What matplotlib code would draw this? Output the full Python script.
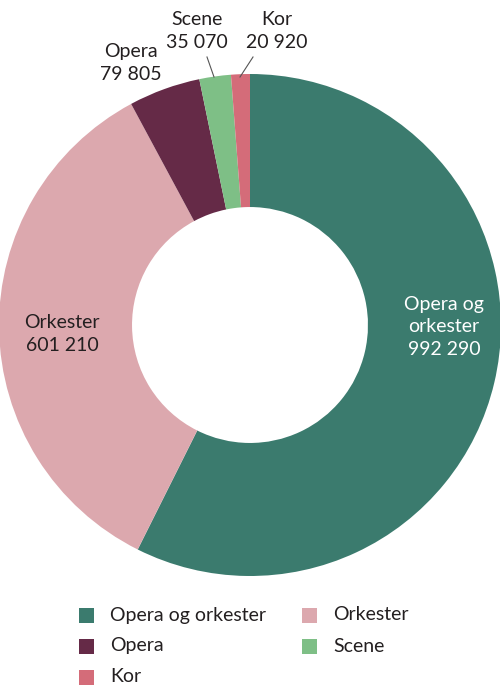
import matplotlib.pyplot as plt
from matplotlib.patches import Rectangle

plt.rcParams['font.family'] = ['Lato', 'DejaVu Sans']

labels = ['Opera og orkester', 'Orkester', 'Opera', 'Scene', 'Kor']
values = [992290, 601210, 79805, 35070, 20920]
value_text = ['992 290', '601 210', '79 805', '35 070', '20 920']
colors = ['#3b7b6e', '#dca8ae', '#652a47', '#7ebf86', '#d46c79']

H = 696


def Y(y):
    # pixel row from top -> data y
    return H - y


fig = plt.figure(figsize=(5, 6.96), dpi=100)
ax = fig.add_axes([0, 0, 1, 1])

cx, cy, r = 250, 325, 251
wedges, _ = ax.pie(values, colors=colors, startangle=90, counterclock=False,
                   center=(cx, Y(cy)), radius=r, frame=True,
                   wedgeprops=dict(width=r * 0.53, linewidth=0))
ax.set_xlim(0, 500)
ax.set_ylim(0, H)
ax.set_aspect('auto')
ax.axis('off')

fs = 14
ls = 1.4
dark = '#231f20'
# labels inside the big slices
ax.text(444, Y(327), 'Opera og\norkester\n' + value_text[0], ha='center', va='center',
        color='white', fontsize=fs, linespacing=ls)
ax.text(62, Y(334), labels[1] + '\n' + value_text[1], ha='center', va='center',
        color=dark, fontsize=fs, linespacing=ls)

# outside labels
ax.text(131, Y(63), labels[2] + '\n' + value_text[2], ha='center', va='center',
        color=dark, fontsize=fs, linespacing=ls)
ax.text(197, Y(31), labels[3] + '\n' + value_text[3], ha='center', va='center',
        color=dark, fontsize=fs, linespacing=ls)
ax.text(277, Y(31), labels[4] + '\n' + value_text[4], ha='center', va='center',
        color=dark, fontsize=fs, linespacing=ls)
ax.plot([214, 207], [Y(77), Y(57)], color='#555555', lw=0.8)
ax.plot([240, 253], [Y(77), Y(57)], color='#555555', lw=0.8)

# legend
pos = [(86, 615), (309, 615), (86, 646), (309, 646), (86, 677)]
for (x, y), lab, c in zip(pos, labels, colors):
    ax.add_patch(Rectangle((x - 7.5, Y(y) - 7.5), 15, 15, color=c, lw=0))
    ax.text(x + 24, Y(y), lab, ha='left', va='center', fontsize=fs, color=dark)

fig.savefig('out.png', dpi=100)
